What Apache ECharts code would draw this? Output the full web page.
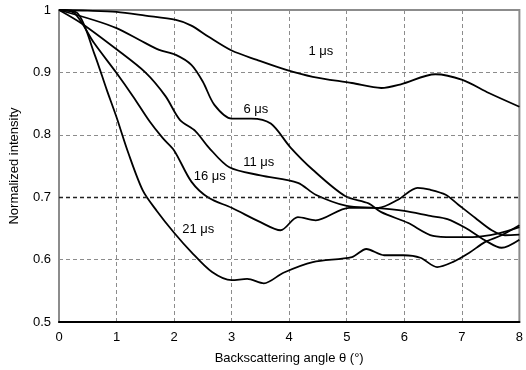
<!DOCTYPE html>
<html>
<head>
<meta charset="utf-8">
<script src="https://cdn.jsdelivr.net/npm/echarts@6/dist/echarts.min.js"></script>
<style>
	html, body { margin: 0; padding: 0; background: #fff; }
	#main { width: 526px; height: 370px; }
</style>
</head>
<body>
<div id="main"></div>
<script>
/*曲线数据 [角度, 归一化强度]*/
var curve_1us = [[0,1],[0.5,0.999],[1,0.997],[1.5,0.991],[2.03,0.984],[2.3,0.975],[2.6,0.957],[3,0.935],[3.44,0.92],[3.95,0.904],[4.41,0.893],[5.09,0.883],[5.6,0.875],[5.94,0.881],[6.54,0.897],[7.01,0.888],[7.47,0.867],[8,0.845]];
var curve_6us = [[0,1],[0.6,0.984],[1,0.971],[1.4,0.952],[1.74,0.936],[2.03,0.928],[2.3,0.912],[2.5,0.885],[2.7,0.848],[3,0.826],[3.34,0.826],[3.68,0.818],[4.02,0.78],[4.41,0.744],[4.97,0.702],[5.38,0.69],[5.6,0.676],[6.06,0.659],[6.5,0.638],[6.84,0.636],[7.18,0.636],[7.64,0.642],[8,0.652]];
var curve_11us = [[0,1],[0.4,0.978],[1,0.937],[1.5,0.9],[1.85,0.862],[2.1,0.824],[2.37,0.806],[2.6,0.78],[2.96,0.748],[3.5,0.735],[4.15,0.723],[4.46,0.704],[5,0.686],[5.5,0.683],[6,0.678],[6.45,0.67],[6.75,0.665],[7.06,0.651],[7.4,0.631],[7.69,0.619],[8,0.632]];
var curve_16us = [[0,1],[0.27,0.995],[0.61,0.947],[1,0.899],[1.29,0.861],[1.57,0.822],[1.8,0.795],[2,0.775],[2.3,0.725],[2.6,0.699],[3,0.683],[3.5,0.66],[3.85,0.647],[4.15,0.668],[4.46,0.663],[5.04,0.683],[5.55,0.683],[5.89,0.696],[6.23,0.715],[6.45,0.712],[6.72,0.704],[6.94,0.688],[7.23,0.667],[7.52,0.647],[7.75,0.639],[8,0.64]];
var curve_21us = [[0,1],[0.32,0.995],[0.61,0.931],[0.83,0.872],[1,0.828],[1.2,0.772],[1.46,0.71],[1.7,0.678],[2,0.643],[2.3,0.612],[2.66,0.58],[3,0.567],[3.27,0.569],[3.56,0.562],[3.9,0.579],[4.41,0.596],[5.09,0.604],[5.34,0.617],[5.65,0.607],[5.99,0.607],[6.28,0.603],[6.57,0.588],[6.84,0.596],[7.13,0.611],[7.4,0.628],[7.69,0.639],[8,0.655]];

var series_names = ['1 μs', '6 μs', '11 μs', '16 μs', '21 μs'];
/*标签位置（数据坐标）*/
var label_pos = [[4.55,0.933],[3.42,0.84],[3.47,0.756],[2.62,0.734],[2.42,0.649]];

var x_ticks = [0, 8, 1];
var y_ticks = [0.5, 1, 0.1];

/*全局的字体样式*/
var font_family = 'Liberation Sans, Arial, sans-serif';
var text_style = {
	color: '#000',
	fontFamily: font_family,
	fontSize: 13
}

var grid_line = {
	show: true,
	lineStyle: { color: '#8c8c8c', type: [4, 3], width: 1 }
}

function make_series(name, data, pos) {
	return {
		name: name,
		type: 'line',
		data: data,
		smooth: 0.3,
		symbol: 'none',
		lineStyle: { color: '#000', width: 1.8 },
		z: 3,
		markPoint: {
			symbol: 'circle',
			symbolSize: 0,
			data: [{ coord: pos }],
			label: {
				show: true,
				position: 'inside',
				formatter: name,
				color: '#000',
				fontFamily: font_family,
				fontSize: 13
			}
		}
	};
}

var all_curves = [curve_1us, curve_6us, curve_11us, curve_16us, curve_21us];
var series_arr = [];
for (var i = 0; i < all_curves.length; i++) {
	series_arr.push(make_series(series_names[i], all_curves[i], label_pos[i]));
}
/*0.7处较深的虚线*/
series_arr[0].markLine = {
	silent: true,
	symbol: 'none',
	label: { show: false },
	lineStyle: { color: '#222', type: [4, 3], width: 1.4 },
	data: [{ yAxis: 0.7 }]
};

var option = {
	animation: false,
	textStyle: text_style,
	grid: {
		left: 51, right: 5, top: 10, bottom: 48,
		show: true,
		borderColor: '#8c8c8c',
		borderWidth: 2
	},
	xAxis: {
		type: 'value',
		min: x_ticks[0], max: x_ticks[1], interval: x_ticks[2],
		name: 'Backscattering angle θ (°)',
		nameLocation: 'middle',
		nameGap: 30,
		nameTextStyle: { fontSize: 13, color: '#000', fontFamily: font_family },
		axisLine: { show: true, lineStyle: { color: '#000', width: 2 } },
		axisTick: { show: false },
		axisLabel: { color: '#000', fontSize: 13, margin: 9, fontFamily: font_family },
		splitLine: grid_line
	},
	yAxis: {
		type: 'value',
		min: y_ticks[0], max: y_ticks[1], interval: y_ticks[2],
		name: 'Normalized intensity',
		nameLocation: 'middle',
		nameGap: 38,
		nameTextStyle: { fontSize: 13, color: '#000', fontFamily: font_family },
		axisLine: { show: true, lineStyle: { color: '#8c8c8c', width: 2 } },
		axisTick: { show: false },
		axisLabel: { color: '#000', fontSize: 13, margin: 8, fontFamily: font_family },
		splitLine: grid_line
	},
	series: series_arr
};

var chart = echarts.init(document.getElementById('main'));
chart.setOption(option);
</script>
</body>
</html>
